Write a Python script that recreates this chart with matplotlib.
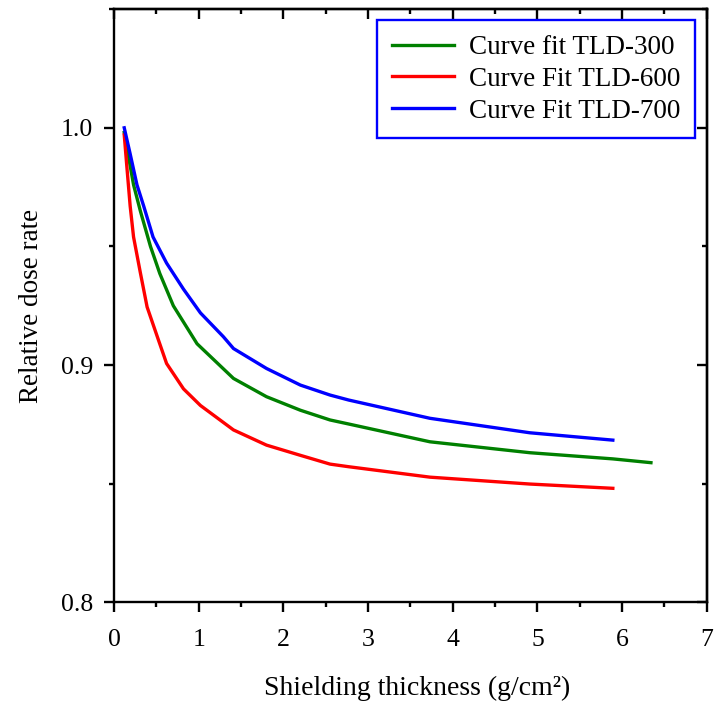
import matplotlib
matplotlib.use("Agg")
import matplotlib.pyplot as plt
from matplotlib.ticker import MultipleLocator, FormatStrFormatter

plt.rcParams['font.family'] = ['Liberation Serif', 'DejaVu Serif']

thick_300 = [0.12, 0.17, 0.23, 0.31, 0.43, 0.54, 0.70, 0.98, 1.41, 1.80, 2.20, 2.55, 2.77, 3.73, 4.91, 5.89, 6.34]
dose_300 = [0.998, 0.988, 0.976, 0.965, 0.950, 0.9386, 0.925, 0.909, 0.8944, 0.8867, 0.881,
            0.8769, 0.8752, 0.8677, 0.8631, 0.8605, 0.8589]

thick_600 = [0.12, 0.15, 0.19, 0.23, 0.31, 0.39, 0.52, 0.62, 0.82, 1.02, 1.41, 1.80, 2.20, 2.55, 2.77, 3.73, 4.91, 5.89]
dose_600 = [0.997, 0.984, 0.967, 0.954, 0.939, 0.9245, 0.911, 0.9007, 0.890, 0.883, 0.8727,
            0.8663, 0.862, 0.8583, 0.8572, 0.8528, 0.8499, 0.8481]

thick_700 = [0.12, 0.19, 0.27, 0.35, 0.46, 0.62, 0.82, 1.02, 1.29, 1.41, 1.80, 2.20, 2.55, 2.77, 3.73, 4.91, 5.89]
dose_700 = [1.0, 0.989, 0.976, 0.967, 0.954, 0.943, 0.932, 0.922, 0.912, 0.907, 0.8986,
            0.8916, 0.8874, 0.8853, 0.8776, 0.8715, 0.8684]

labels = ["Curve fit TLD-300", "Curve Fit TLD-600", "Curve Fit TLD-700"]

fig = plt.figure(figsize=(7.22, 7.03), dpi=100)
ax = fig.add_axes([0.158, 0.143, 0.821, 0.844])

ax.plot(thick_300, dose_300, color='#008000', lw=2.4, label=labels[0])
ax.plot(thick_600, dose_600, color='#ff0000', lw=2.4, label=labels[1])
ax.plot(thick_700, dose_700, color='#0000ff', lw=2.4, label=labels[2])

ax.set_xlim(0, 7)
ax.set_ylim(0.8, 1.05)
ax.xaxis.set_major_locator(MultipleLocator(1))
ax.xaxis.set_minor_locator(MultipleLocator(0.5))
ax.yaxis.set_major_locator(MultipleLocator(0.1))
ax.yaxis.set_minor_locator(MultipleLocator(0.05))
ax.yaxis.set_major_formatter(FormatStrFormatter('%.1f'))

LW = 1.7
for s in ax.spines.values():
    s.set_linewidth(LW)

ax.tick_params(which='major', direction='out', length=7, width=LW, labelsize=18.5)
ax.tick_params(which='minor', direction='out', length=3.5, width=LW)
ax.tick_params(axis='x', which='major', pad=12)
ax.tick_params(axis='y', which='major', pad=8)

top = ax.secondary_xaxis('top')
top.xaxis.set_major_locator(MultipleLocator(1))
top.xaxis.set_minor_locator(MultipleLocator(0.5))
top.tick_params(which='major', direction='in', length=7, width=LW, labeltop=False)
top.tick_params(which='minor', direction='in', length=3.5, width=LW)
right = ax.secondary_yaxis('right')
right.yaxis.set_major_locator(MultipleLocator(0.1))
right.yaxis.set_minor_locator(MultipleLocator(0.05))
right.tick_params(which='major', direction='in', length=7, width=LW, labelright=False)
right.tick_params(which='minor', direction='in', length=3.5, width=LW)
for sec in (top, right):
    for s in sec.spines.values():
        s.set_linewidth(LW)

ax.set_xlabel("Shielding thickness (g/cm²)", fontsize=20)
ax.xaxis.set_label_coords(0.511, -0.123)
ax.set_ylabel("Relative dose rate", fontsize=19.5, labelpad=12)

leg = ax.legend(loc='upper right', bbox_to_anchor=(0.98, 0.9815), borderaxespad=0,
                fontsize=19.5, frameon=True, fancybox=False, edgecolor='#0000ff', framealpha=1,
                handlelength=2.3, labelspacing=0.25, borderpad=0.55, handletextpad=0.55)
leg.get_frame().set_linewidth(LW)

fig.savefig("out.png", dpi=100)
